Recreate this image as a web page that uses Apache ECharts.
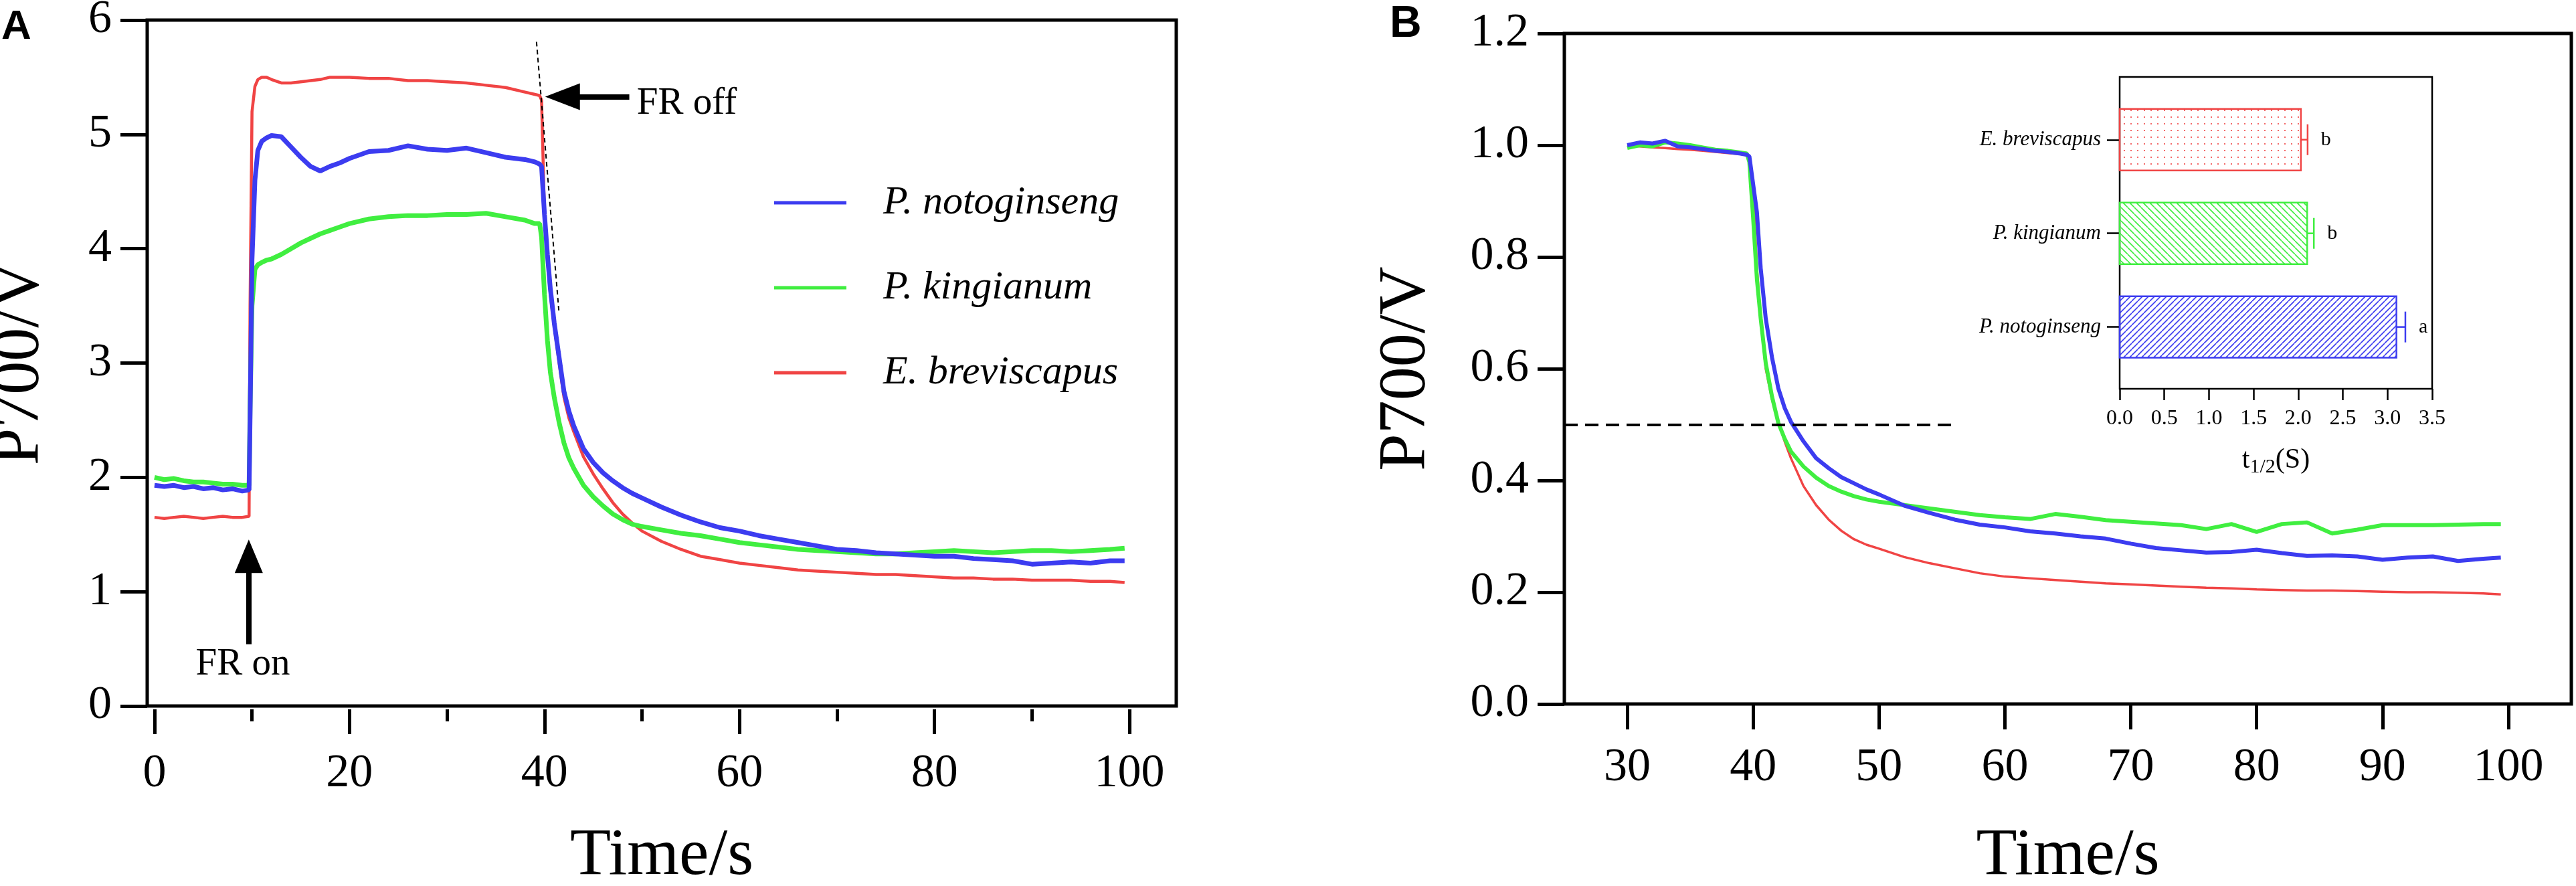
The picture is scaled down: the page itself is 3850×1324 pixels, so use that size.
<!DOCTYPE html>
<html lang="en">
<head>
<meta charset="UTF-8">
<title>P700 kinetics</title>
<script src="https://cdn.jsdelivr.net/npm/echarts@6.0.0/dist/echarts.min.js"></script>
<style>
    * { margin: 0; padding: 0 }
    html, body { width: 100%; height: 100%; background: #fff }
    #main { width: 3850px; height: 1324px }
</style>
</head>
<body>
<div id="main"></div>
<script>
// panel A: raw P700 signal (V) against time (s)
var timeA = [0, 1, 2, 3, 4, 5, 6, 7, 8, 9, 9.7, 9.8, 10, 10.3, 10.6, 11, 11.5, 12,
    13, 14, 15, 16, 17, 18, 19, 20, 22, 24, 26, 28, 30, 32, 34, 36, 38, 39, 39.5, 39.7,
    40, 40.3, 40.6, 41, 41.5, 42, 42.5, 43, 44, 45, 46, 47, 48, 49, 50,
    52, 54, 56, 58, 60, 62, 64, 66, 68, 70, 72, 74, 76, 78, 80, 82, 84, 86, 88, 90, 92, 94, 96, 98, 99.5];
var notoA = [1.93, 1.92, 1.93, 1.91, 1.92, 1.90, 1.91, 1.89, 1.90, 1.88, 1.89, 2.5, 3.9, 4.6, 4.86, 4.94, 4.97, 4.99,
    4.98, 4.89, 4.80, 4.72, 4.68, 4.72, 4.75, 4.79, 4.85, 4.86, 4.90, 4.87, 4.86, 4.88, 4.84, 4.80, 4.78, 4.76, 4.74, 4.72,
    4.30, 3.95, 3.65, 3.35, 3.05, 2.75, 2.58, 2.45, 2.25, 2.13, 2.04, 1.97, 1.91, 1.86, 1.82,
    1.74, 1.67, 1.61, 1.56, 1.53, 1.49, 1.46, 1.43, 1.40, 1.37, 1.36, 1.34, 1.33, 1.32, 1.31, 1.31, 1.29, 1.28, 1.27, 1.24, 1.25, 1.26, 1.25, 1.27, 1.27];
var kingA = [2.00, 1.98, 1.99, 1.97, 1.96, 1.96, 1.95, 1.94, 1.94, 1.93, 1.93, 2.6, 3.5, 3.82, 3.86, 3.88, 3.90, 3.91,
    3.95, 4.00, 4.05, 4.09, 4.13, 4.16, 4.19, 4.22, 4.26, 4.28, 4.29, 4.29, 4.30, 4.30, 4.31, 4.28, 4.25, 4.22, 4.22, 4.10,
    3.60, 3.20, 2.92, 2.70, 2.48, 2.30, 2.17, 2.08, 1.93, 1.83, 1.75, 1.68, 1.63, 1.59, 1.57,
    1.54, 1.51, 1.49, 1.46, 1.43, 1.41, 1.39, 1.37, 1.36, 1.35, 1.34, 1.33, 1.33, 1.34, 1.35, 1.36, 1.35, 1.34, 1.35, 1.36, 1.36, 1.35, 1.36, 1.37, 1.38];
var breviA = [1.65, 1.64, 1.65, 1.66, 1.65, 1.64, 1.65, 1.66, 1.65, 1.65, 1.66, 3.5, 5.20, 5.42, 5.48, 5.50, 5.50, 5.48,
    5.45, 5.45, 5.46, 5.47, 5.48, 5.50, 5.50, 5.50, 5.49, 5.49, 5.47, 5.47, 5.46, 5.45, 5.43, 5.41, 5.37, 5.35, 5.34, 5.30,
    4.30, 3.90, 3.60, 3.32, 3.00, 2.70, 2.52, 2.40, 2.18, 2.03, 1.90, 1.78, 1.68, 1.60, 1.53,
    1.44, 1.37, 1.31, 1.28, 1.25, 1.23, 1.21, 1.19, 1.18, 1.17, 1.16, 1.15, 1.15, 1.14, 1.13, 1.12, 1.12, 1.11, 1.11, 1.10, 1.10, 1.10, 1.09, 1.09, 1.08];

// panel B: signal relative to the level before FR off
var timeB = [30, 31, 32, 33, 34, 35, 36, 37, 38, 39, 39.5, 39.7,
    40, 40.3, 40.6, 41, 41.5, 42, 42.5, 43, 44, 45, 46, 47, 48, 49, 50,
    52, 54, 56, 58, 60, 62, 64, 66, 68, 70, 72, 74, 76, 78, 80, 82, 84, 86, 88, 90, 92, 94, 96, 98, 99.4];
var notoB = [1.000, 1.005, 1.003, 1.008, 0.998, 0.996, 0.993, 0.990, 0.988, 0.985, 0.983, 0.980,
    0.93, 0.88, 0.78, 0.69, 0.62, 0.565, 0.53, 0.505, 0.47, 0.44, 0.422, 0.406, 0.395, 0.384, 0.375,
    0.355, 0.342, 0.330, 0.321, 0.316, 0.309, 0.305, 0.300, 0.296, 0.287, 0.279, 0.275, 0.271, 0.272, 0.276, 0.270, 0.265, 0.266, 0.264, 0.258, 0.262, 0.264, 0.256, 0.260, 0.262];
var kingB = [0.995, 1.000, 0.998, 1.005, 1.003, 1.000, 0.996, 0.992, 0.990, 0.987, 0.985, 0.970,
    0.87, 0.76, 0.69, 0.61, 0.55, 0.503, 0.475, 0.452, 0.425, 0.405, 0.390, 0.380, 0.372, 0.366, 0.362,
    0.356, 0.350, 0.344, 0.338, 0.334, 0.331, 0.340, 0.335, 0.329, 0.326, 0.323, 0.320, 0.313, 0.322, 0.308, 0.322, 0.325, 0.305, 0.312, 0.320, 0.320, 0.320, 0.321, 0.322, 0.322];
var breviB = [1.000, 0.998, 0.996, 0.995, 0.993, 0.992, 0.990, 0.988, 0.986, 0.984, 0.982, 0.975,
    0.92, 0.78, 0.69, 0.60, 0.545, 0.505, 0.47, 0.44, 0.39, 0.356, 0.33, 0.31, 0.295, 0.285, 0.278,
    0.263, 0.252, 0.243, 0.234, 0.228, 0.225, 0.222, 0.219, 0.216, 0.214, 0.212, 0.210, 0.208, 0.207, 0.205, 0.204, 0.203, 0.203, 0.202, 0.201, 0.200, 0.200, 0.199, 0.198, 0.196];

// inset: half time of P700+ re-reduction
var species = ['P. notoginseng', 'P. kingianum', 'E. breviscapus'];
var halfTime = [3.10, 2.10, 2.03];
var halfTimeErr = [0.10, 0.075, 0.075];
var letters = ['a', 'b', 'b'];

var ticksA = [0, 20, 40, 60, 80, 100];
var minorTicksA = [10, 30, 50, 70, 90];
var ticksB = [30, 40, 50, 60, 70, 80, 90, 100];

var BLUE = '#3c3cf0', GREEN = '#40ee40', RED = '#f04444';
var SERIF = "'Liberation Serif', 'Times New Roman', serif";

function zip(xs, ys) {
    return xs.map(function (x, i) { return [x, ys[i]]; });
}

// fill patterns of the inset bars
function hatch(color, size, up) {
    var c = document.createElement('canvas');
    c.width = c.height = size;
    var g = c.getContext('2d');
    g.strokeStyle = color;
    g.lineWidth = 1.6;
    g.beginPath();
    for (var k = -1; k <= 1; k++) {
        if (up) {
            g.moveTo(k * size, size);
            g.lineTo(k * size + size, 0);
        } else {
            g.moveTo(k * size, 0);
            g.lineTo(k * size + size, size);
        }
    }
    g.stroke();
    return c;
}
function dots(color, size) {
    var c = document.createElement('canvas');
    c.width = c.height = size;
    var g = c.getContext('2d');
    g.fillStyle = color;
    g.beginPath();
    g.arc(size / 2, size / 2, 1.1, 0, Math.PI * 2);
    g.fill();
    return c;
}
var barColors = [BLUE, GREEN, RED];
var barPatterns = [hatch(BLUE, 9, true), hatch(GREEN, 10, false), dots(RED, 10)];

var label70 = { fontFamily: SERIF, fontSize: 70, color: '#000' };
function noLine() { return { show: false, onZero: false }; }
function tickLine() { return { color: '#000', width: 5 }; }

var myChart = echarts.init(document.getElementById('main'));
var option = {
    animation: false,
    backgroundColor: '#fff',
    grid: [
        { left: 220, top: 30, width: 1538, height: 1025, outerBoundsMode: 'none', containLabel: false,
          show: true, borderColor: '#000', borderWidth: 5 },
        { left: 2338, top: 50, width: 1505, height: 1002, outerBoundsMode: 'none', containLabel: false,
          show: true, borderColor: '#000', borderWidth: 5 },
        { left: 3168, top: 115, width: 467, height: 466, outerBoundsMode: 'none', containLabel: false,
          show: true, borderColor: '#000', borderWidth: 2.5, z: 5 }
    ],
    legend: {
        orient: 'vertical',
        left: 1157,
        top: 273,
        padding: 0,
        itemGap: 67,
        itemWidth: 108,
        itemHeight: 5,
        icon: 'rect',
        data: ['P. notoginseng', 'P. kingianum', 'E. breviscapus'],
        textStyle: { fontFamily: SERIF, fontStyle: 'italic', fontSize: 60, lineHeight: 60, color: '#000', padding: [0, 0, 0, 50] }
    },
    xAxis: [
        {
            gridIndex: 0, type: 'value', position: 'bottom', offset: 5, min: -0.75, max: 104.8,
            axisLine: noLine(), splitLine: { show: false },
            axisTick: { customValues: ticksA, length: 37, lineStyle: tickLine() },
            axisLabel: Object.assign({ customValues: ticksA, margin: 62 }, label70),
            name: 'Time/s', nameLocation: 'middle', nameGap: 170,
            nameTextStyle: { fontFamily: SERIF, fontSize: 100, color: '#000' }
        },
        {
            gridIndex: 0, type: 'value', position: 'bottom', offset: 5, min: -0.75, max: 104.8,
            axisLine: noLine(), splitLine: { show: false }, axisLabel: { show: false },
            axisTick: { customValues: minorTicksA, length: 18, lineStyle: tickLine() }
        },
        {
            gridIndex: 1, type: 'value', position: 'bottom', min: 25, max: 105,
            axisLine: noLine(), splitLine: { show: false },
            axisTick: { customValues: ticksB, length: 38, lineStyle: tickLine() },
            axisLabel: Object.assign({ customValues: ticksB, margin: 61 }, label70),
            name: 'Time/s', nameLocation: 'middle', nameGap: 178,
            nameTextStyle: { fontFamily: SERIF, fontSize: 100, color: '#000' }
        },
        {
            gridIndex: 2, type: 'value', position: 'bottom', min: 0, max: 3.5, interval: 0.5,
            axisLine: noLine(), splitLine: { show: false },
            axisTick: { length: 17, lineStyle: { color: '#000', width: 2.5 } },
            axisLabel: {
                margin: 29, fontFamily: SERIF, fontSize: 32, color: '#000',
                formatter: function (v) { return v.toFixed(1); }
            },
            name: '{t|t}{s|1/2}{t|(S)}', nameLocation: 'middle', nameGap: 82,
            nameTextStyle: {
                rich: {
                    t: { fontFamily: SERIF, fontSize: 42, color: '#000', lineHeight: 50, verticalAlign: 'middle' },
                    s: { fontFamily: SERIF, fontSize: 30, color: '#000', lineHeight: 50, verticalAlign: 'bottom' }
                }
            }
        }
    ],
    yAxis: [
        {
            gridIndex: 0, type: 'value', min: 0, max: 6, interval: 1,
            axisLine: noLine(), splitLine: { show: false },
            axisTick: { length: 40, lineStyle: tickLine() },
            axisLabel: Object.assign({ margin: 53 }, label70),
            name: 'P700/V', nameLocation: 'middle', nameGap: 140,
            nameTextStyle: { fontFamily: SERIF, fontSize: 100, color: '#000' }
        },
        {
            gridIndex: 1, type: 'value', min: 0, max: 1.2, interval: 0.2,
            axisLine: noLine(), splitLine: { show: false },
            axisTick: { length: 40, lineStyle: tickLine() },
            axisLabel: Object.assign({ margin: 53, formatter: function (v) { return v.toFixed(1); } }, label70),
            name: 'P700/V', nameLocation: 'middle', nameGap: 186,
            nameTextStyle: { fontFamily: SERIF, fontSize: 100, color: '#000' }
        },
        {
            gridIndex: 2, type: 'value', min: -0.66, max: 2.67,
            axisLine: noLine(), splitLine: { show: false },
            axisTick: { customValues: [0, 1, 2], length: 19, lineStyle: { color: '#000', width: 2.5 } },
            axisLabel: {
                customValues: [0, 1, 2], margin: 28,
                fontFamily: SERIF, fontStyle: 'italic', fontSize: 31, color: '#000',
                formatter: function (v) { return species[Math.round(v)]; }
            }
        }
    ],
    graphic: [
        { type: 'text', left: 2, top: 10, style: { text: 'A', font: "bold 62px 'Liberation Sans', Arial, sans-serif", fill: '#000' } },
        { type: 'text', left: 2077, top: 4, style: { text: 'B', font: "bold 66px 'Liberation Sans', Arial, sans-serif", fill: '#000' } }
    ],
    series: [
        {
            name: 'E. breviscapus', type: 'line', xAxisIndex: 0, yAxisIndex: 0,
            data: zip(timeA, breviA), showSymbol: false, z: 2,
            itemStyle: { color: RED }, lineStyle: { color: RED, width: 4.5 },
            markLine: {
                silent: true, animation: false, label: { show: false },
                data: [
                    [
                        { coord: [39.18, 5.81], symbol: 'none', lineStyle: { color: '#000', width: 2, type: [7, 5] } },
                        { coord: [41.47, 3.46], symbol: 'none' }
                    ],
                    [
                        { coord: [48.7, 5.33], symbol: 'none', lineStyle: { color: '#000', width: 8, type: 'solid' } },
                        { coord: [41.85, 5.33], symbol: 'triangle', symbolSize: [40, 52] }
                    ],
                    [
                        { coord: [9.67, 0.54], symbol: 'none', lineStyle: { color: '#000', width: 8, type: 'solid' } },
                        { coord: [9.67, 1.31], symbol: 'triangle', symbolSize: [42, 50] }
                    ]
                ]
            },
            markPoint: {
                silent: true, symbolSize: 0,
                label: { show: true, position: 'inside', fontFamily: SERIF, fontSize: 57, color: '#000', formatter: function (p) { return p.name; } },
                data: [
                    { name: 'FR on', coord: [9.06, 0.36] },
                    { name: 'FR off', coord: [49.47, 5.27], label: { align: 'left' } }
                ]
            }
        },
        {
            name: 'P. kingianum', type: 'line', xAxisIndex: 0, yAxisIndex: 0,
            data: zip(timeA, kingA), showSymbol: false, z: 3,
            itemStyle: { color: GREEN }, lineStyle: { color: GREEN, width: 7 }
        },
        {
            name: 'P. notoginseng', type: 'line', xAxisIndex: 0, yAxisIndex: 0,
            data: zip(timeA, notoA), showSymbol: false, z: 4,
            itemStyle: { color: BLUE }, lineStyle: { color: BLUE, width: 7 }
        },
        {
            name: 'E. breviscapus', type: 'line', xAxisIndex: 2, yAxisIndex: 1,
            data: zip(timeB, breviB), showSymbol: false, z: 2,
            itemStyle: { color: RED }, lineStyle: { color: RED, width: 3.5 },
            markLine: {
                silent: true, animation: false, label: { show: false }, symbol: 'none',
                lineStyle: { color: '#000', width: 4, type: [20, 11] },
                data: [[{ coord: [25, 0.5] }, { coord: [56, 0.5] }]]
            }
        },
        {
            name: 'P. kingianum', type: 'line', xAxisIndex: 2, yAxisIndex: 1,
            data: zip(timeB, kingB), showSymbol: false, z: 3,
            itemStyle: { color: GREEN }, lineStyle: { color: GREEN, width: 6 }
        },
        {
            name: 'P. notoginseng', type: 'line', xAxisIndex: 2, yAxisIndex: 1,
            data: zip(timeB, notoB), showSymbol: false, z: 4,
            itemStyle: { color: BLUE }, lineStyle: { color: BLUE, width: 6 }
        },
        {
            name: 'half time', type: 'custom', xAxisIndex: 3, yAxisIndex: 2, z: 6,
            data: species.map(function (s, i) { return [halfTime[i], i, halfTimeErr[i]]; }),
            renderItem: function (params, api) {
                var i = params.dataIndex;
                var v = api.value(0), cat = api.value(1), err = api.value(2);
                var start = api.coord([0, cat]);
                var end = api.coord([v, cat]);
                var errEnd = api.coord([v + err, cat]);
                var h = api.size([0, 0.657])[1];
                var color = barColors[i];
                return {
                    type: 'group',
                    children: [
                        {
                            type: 'rect',
                            shape: { x: start[0], y: start[1] - h / 2, width: end[0] - start[0], height: h },
                            style: { fill: { image: barPatterns[i], repeat: 'repeat' }, stroke: color, lineWidth: 2.5 }
                        },
                        {
                            type: 'line',
                            shape: { x1: end[0], y1: end[1], x2: errEnd[0], y2: end[1] },
                            style: { stroke: color, lineWidth: 2.5 }
                        },
                        {
                            type: 'line',
                            shape: { x1: errEnd[0], y1: end[1] - 23, x2: errEnd[0], y2: end[1] + 23 },
                            style: { stroke: color, lineWidth: 2.5 }
                        },
                        {
                            type: 'text',
                            style: {
                                text: letters[i], x: errEnd[0] + 20, y: end[1],
                                verticalAlign: 'middle', font: '30px ' + SERIF, fill: '#000'
                            }
                        }
                    ]
                };
            }
        }
    ]
};
myChart.setOption(option);
</script>
</body>
</html>
